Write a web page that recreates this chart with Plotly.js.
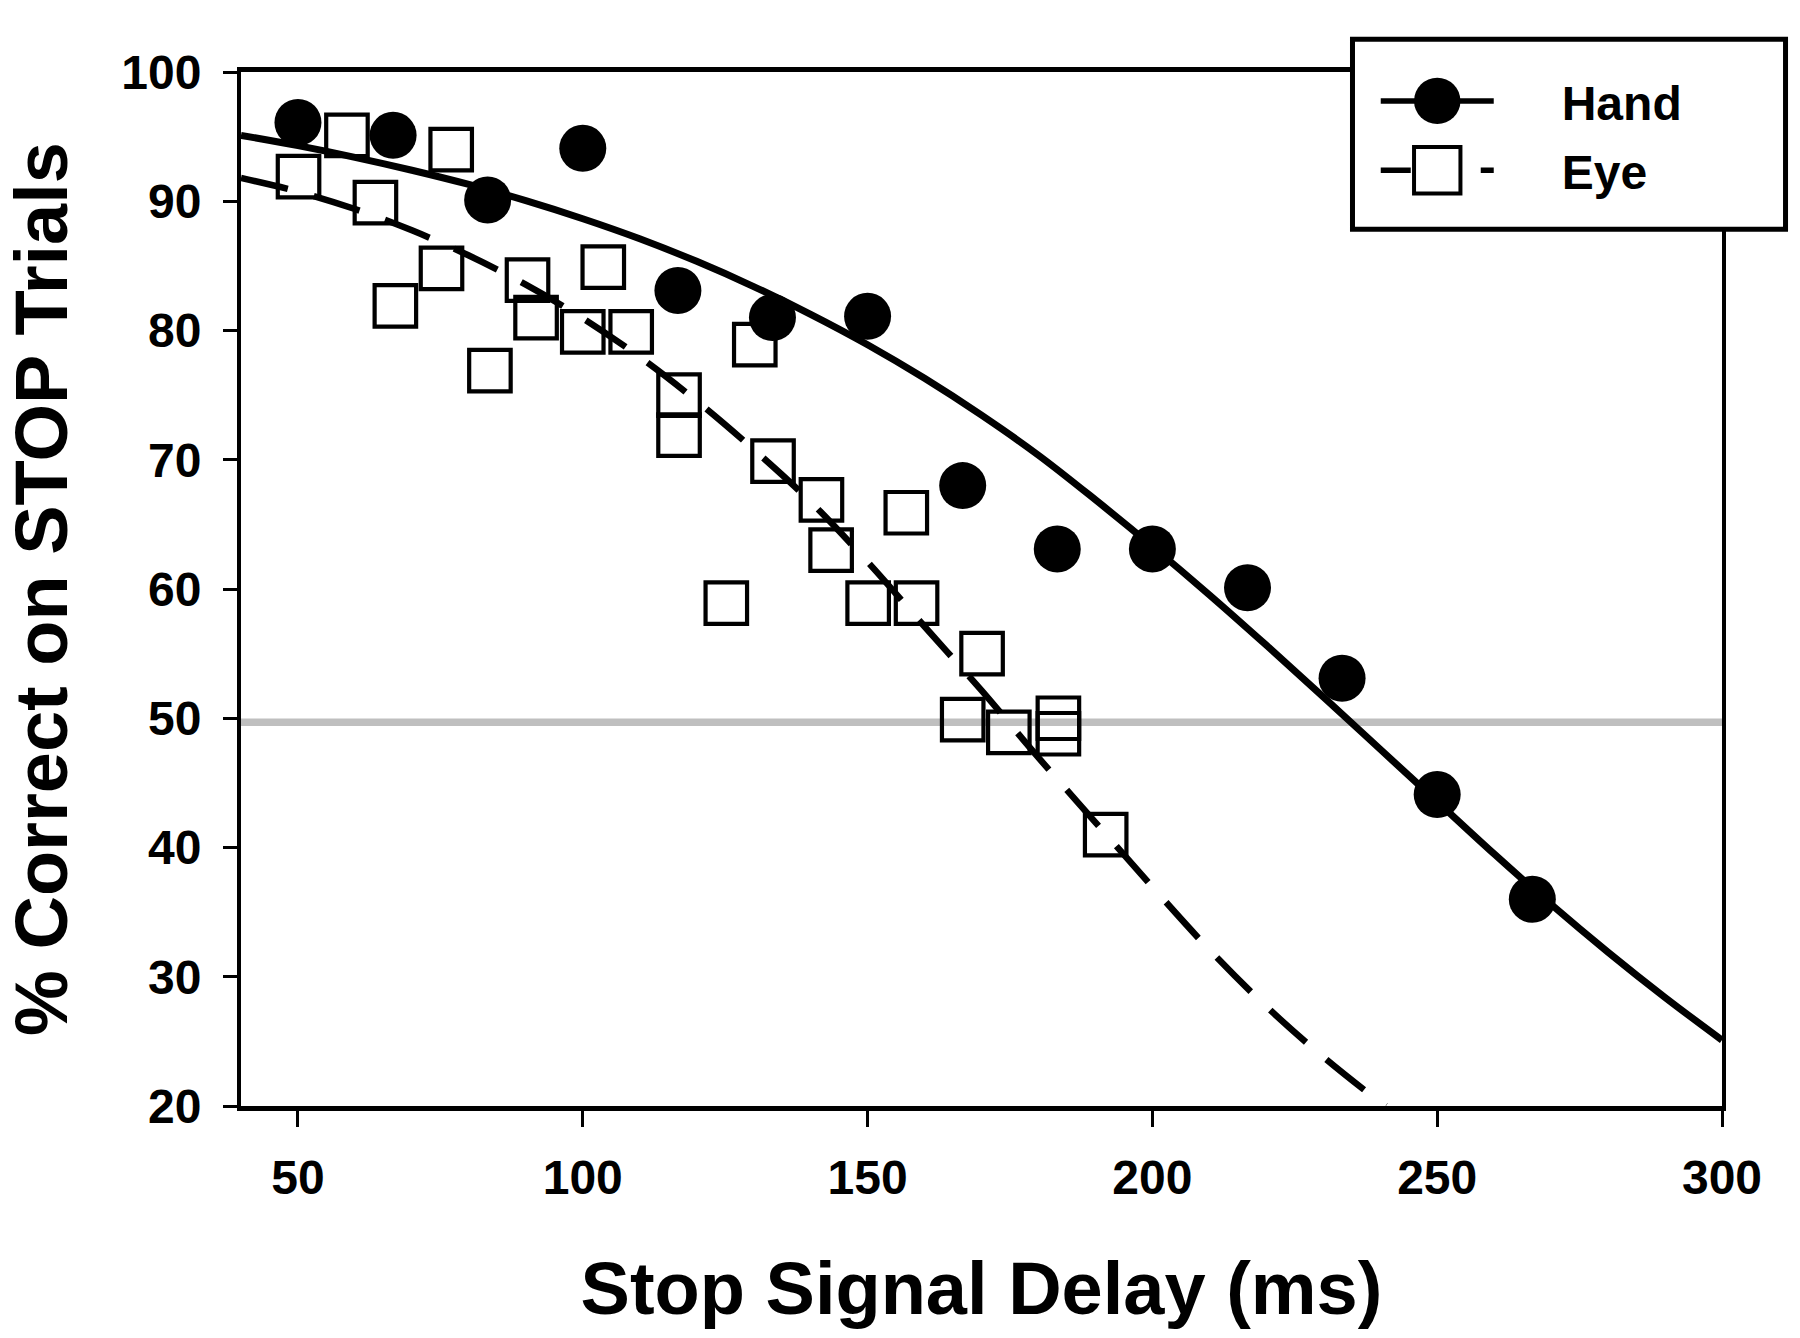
<!DOCTYPE html>
<html>
<head>
<meta charset="utf-8">
<script src="https://cdn.plot.ly/plotly-3.0.1.min.js"></script>
<style>
  body { margin: 0; background: #fff; }
  #stopPlot { width: 1800px; height: 1338px; }
</style>
</head>
<body>
<div id="stopPlot"></div>
<script>
/* DATA */
// Hand (filled circles)
const handDelay = [50, 66.7, 83.3, 100, 116.7, 133.3, 150, 166.7, 183.3, 200, 216.7, 233.3, 250, 266.7];
const handCorrect = [96.1, 95.1, 90.1, 94.1, 83.1, 81.0, 81.1, 68.0, 63.1, 63.1, 60.1, 53.1, 44.1, 36.0];

// Eye (open squares)
const eyeDelay = [50.1, 58.6, 63.6, 67.1, 75.2, 76.9, 83.7, 90.3, 91.8, 100.0, 103.6, 108.5, 116.9, 116.9,
  125.2, 130.2, 133.4, 141.9, 143.6, 150.1, 156.8, 158.6, 166.7, 170.1, 174.8, 183.5, 183.5, 191.8];
const eyeCorrect = [91.9, 95.1, 89.9, 81.9, 84.8, 94.0, 76.9, 83.9, 81.0, 79.9, 84.9, 79.9, 75.0, 71.9,
  58.9, 78.9, 69.9, 66.9, 63.0, 58.9, 65.9, 58.9, 49.9, 55.0, 48.9, 50.0, 48.8, 41.0];

// fitted curves, read every 10 ms along the drawn lines
const handFitX = [40, 50, 60, 70, 80, 90, 100, 110, 120, 130, 140, 150, 160, 170, 180, 190, 200,
  210, 220, 230, 240, 250, 260, 270, 280, 290, 300];
const handFitY = [95.1, 94.3, 93.4, 92.4, 91.3, 90.05, 88.65, 87.1, 85.35, 83.4, 81.25, 78.9, 76.3,
  73.45, 70.35, 66.9, 63.3, 59.55, 55.65, 51.65, 47.6, 43.55, 39.5, 35.6, 31.9, 28.4, 25.1];

const eyeFitX = [40, 50, 60, 70, 80, 90, 100, 110, 120, 130, 140, 150, 160, 170, 180, 190, 200,
  210, 220, 230, 240, 241];
const eyeFitY = [91.8, 90.75, 89.4, 87.75, 85.8, 83.55, 80.95, 77.95, 74.55, 70.8, 66.75, 62.1, 57.1,
  52.15, 46.95, 41.95, 36.95, 32.1, 27.7, 23.8, 20.3, 20];

// 50% criterion line
const criterionX = [40, 300];
const criterionY = [49.7, 49.7];

const xTicks = [50, 100, 150, 200, 250, 300];
const yTicks = [20, 30, 40, 50, 60, 70, 80, 90, 100];

/* TRACES */
const fontFam = 'Liberation Sans, Arial, sans-serif';
const pad = '\u00a0\u00a0\u00a0\u00a0\u2009';

let traces = [
  {
    x: criterionX, y: criterionY, mode: 'lines', showlegend: false,
    line: {color: '#bfbfbf', width: 7.5}
  },
  {
    x: handFitX, y: handFitY, mode: 'lines', showlegend: false,
    line: {color: 'black', width: 7, shape: 'spline'}
  },
  {
    x: eyeFitX, y: eyeFitY, mode: 'lines', showlegend: false,
    line: {color: 'black', width: 6.5, shape: 'spline', dash: '48px,27px'}
  },
  {
    x: handDelay, y: handCorrect, mode: 'markers', showlegend: false,
    marker: {symbol: 'circle', size: 47, color: 'black'}
  },
  {
    x: eyeDelay, y: eyeCorrect, mode: 'markers', showlegend: false,
    marker: {symbol: 'square-open', size: 41.5, color: 'black', line: {width: 4.2}}
  },
  // legend-only entries (no data)
  {
    x: [null], y: [null], mode: 'lines+markers', name: pad + 'Hand', legendgroup: 'hand',
    line: {color: 'black', width: 5.5},
    marker: {symbol: 'circle', size: 16, color: 'black'}
  },
  {
    x: [null], y: [null], mode: 'lines+markers', name: pad + 'Eye', legendgroup: 'eye',
    line: {color: 'black', width: 5.5, dash: '30px,70px'},
    marker: {symbol: 'square-open', size: 16, color: 'black', line: {width: 4}}
  }
];

let layout = {
  width: 1800,
  height: 1338,
  margin: {l: 241, r: 78, t: 72, b: 232},
  paper_bgcolor: 'white',
  plot_bgcolor: 'white',
  font: {family: fontFam, color: 'black', size: 48, weight: 'bold'},
  xaxis: {
    range: [40, 300],
    tickvals: xTicks,
    ticks: 'outside', ticklen: 16, tickwidth: 3, tickcolor: 'black',
    showline: true, linewidth: 4.5, linecolor: 'black', mirror: true,
    showgrid: false, zeroline: false,
    tickfont: {family: fontFam, size: 48, weight: 'bold'},
    ticklabelstandoff: 10,
    title: {text: 'Stop Signal Delay (ms)', font: {family: fontFam, size: 74, weight: 'bold'}, standoff: 60}
  },
  yaxis: {
    range: [20, 100],
    tickvals: yTicks,
    ticks: 'outside', ticklen: 14, tickwidth: 3, tickcolor: 'black',
    showline: true, linewidth: 4, linecolor: 'black', mirror: true,
    showgrid: false, zeroline: false,
    tickfont: {family: fontFam, size: 48, weight: 'bold'},
    ticklabelstandoff: 12,
    title: {text: '% Correct on STOP Trials', font: {family: fontFam, size: 74, weight: 'bold'}, standoff: 56}
  },
  // legend frame
  shapes: [{
    type: 'rect', xref: 'paper', yref: 'paper', layer: 'above',
    x0: 0.7505, x1: 1.0429, y0: 0.848, y1: 1.0317,
    line: {color: 'black', width: 5}, fillcolor: 'white'
  }],
  showlegend: true,
  legend: {
    x: 0.7662, y: 1.0085, xanchor: 'left', yanchor: 'top',
    bgcolor: 'rgba(0,0,0,0)', borderwidth: 0,
    font: {family: fontFam, size: 48, weight: 'bold'},
    itemwidth: 113,
    itemsizing: 'trace',
    tracegroupgap: 4
  }
};

let gd = document.getElementById('stopPlot');
Plotly.newPlot(gd, traces, layout, {displayModeBar: false}).then(function() {
  // legend markers are capped at 16px by plotly, blow them up to match the data markers
  gd.querySelectorAll('.legend .legendpoints path.scatterpts').forEach(function(p) {
    let t = p.getAttribute('transform') || '';
    p.setAttribute('transform', t + ' scale(2.9)');
    p.style.vectorEffect = 'non-scaling-stroke';
  });
});
</script>
</body>
</html>
